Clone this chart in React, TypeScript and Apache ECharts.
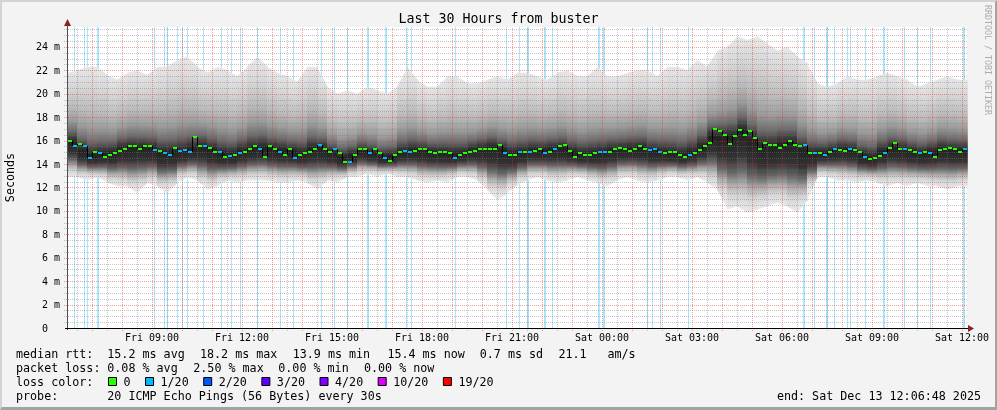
import React, { useEffect, useRef } from 'react';
import * as echarts from 'echarts';

// ---------- data (x = minutes since Fri 06:10, y = milliseconds) ----------
const xTickMinutes = [170, 350, 530, 710, 890, 1070, 1250, 1430, 1610, 1790];
const xTickLabels = ['Fri 09:00', 'Fri 12:00', 'Fri 15:00', 'Fri 18:00', 'Fri 21:00', 'Sat 00:00', 'Sat 03:00', 'Sat 06:00', 'Sat 09:00', 'Sat 12:00'];

const X_MAX = 1800;
const Y_MAX = 25.7;

const medianStepMin = 10;
const medianMs = [
  16.0, 15.5, 15.7, 15.5, 14.5, 15.0, 14.9, 14.6, 14.8, 14.9,
  15.1, 15.3, 15.5, 15.5, 15.3, 15.5, 15.5, 15.2, 15.1, 14.9,
  14.8, 15.4, 15.1, 15.2, 15.0, 16.3, 15.5, 15.5, 15.4, 15.0,
  15.0, 14.6, 14.7, 14.8, 14.9, 15.0, 15.3, 15.5, 15.3, 14.6,
  15.5, 15.3, 15.0, 14.8, 15.3, 14.5, 14.8, 14.9, 15.0, 15.3,
  15.6, 15.3, 15.0, 15.3, 14.9, 14.2, 14.2, 14.8, 15.3, 15.3,
  14.9, 15.3, 14.9, 14.5, 14.3, 14.8, 15.0, 15.1, 15.0, 15.1,
  15.3, 15.3, 15.0, 14.9, 15.0, 15.0, 14.9, 14.5, 14.8, 14.9,
  15.0, 15.1, 15.3, 15.3, 15.3, 15.3, 15.6, 14.9, 14.8, 14.8,
  15.0, 15.0, 15.0, 15.1, 15.3, 14.9, 15.0, 15.3, 15.5, 15.6,
  15.1, 14.6, 14.9, 14.8, 14.8, 14.9, 15.0, 15.0, 15.0, 15.3,
  15.4, 15.3, 15.1, 15.3, 15.5, 15.3, 15.2, 15.3, 15.0, 14.9,
  15.0, 15.0, 14.8, 14.6, 14.8, 14.9, 15.2, 15.5, 15.8, 17.0,
  16.8, 16.5, 15.7, 16.4, 16.9, 16.5, 16.8, 16.2, 15.3, 15.8,
  15.6, 15.6, 15.4, 15.6, 16.0, 15.6, 15.5, 15.6, 14.9, 14.9,
  14.9, 14.8, 15.0, 15.3, 15.2, 15.1, 15.3, 15.2, 15.0, 14.6,
  14.4, 14.5, 14.7, 14.9, 15.4, 15.8, 15.3, 15.3, 15.2, 15.0,
  14.9, 15.0, 14.9, 14.6, 15.2, 15.3, 15.4, 15.3, 15.0, 15.3,
  15.3,
];

const smokeStepMin = 20;
const smokeHiMs = [
  21.8, 22.0, 22.3, 22.3, 21.6, 21.2, 21.8, 22.0, 21.6, 22.3,
  22.3, 22.9, 23.2, 22.3, 21.8, 22.3, 22.0, 21.5, 22.3, 23.2,
  22.3, 21.8, 21.5, 21.0, 22.3, 22.3, 20.6, 20.0, 20.3, 20.0,
  20.6, 20.3, 20.0, 20.6, 22.3, 21.2, 20.6, 20.6, 21.5, 21.5,
  20.9, 20.9, 21.2, 21.5, 21.2, 21.8, 21.8, 21.5, 21.2, 21.8,
  22.0, 21.5, 21.5, 22.3, 21.5, 21.5, 21.8, 22.0, 22.0, 21.5,
  22.3, 22.3, 22.0, 22.9, 22.3, 23.7, 24.0, 24.9, 24.6, 24.9,
  24.3, 23.7, 24.0, 23.2, 22.6, 20.9, 20.6, 20.9, 21.5, 21.2,
  21.2, 21.5, 21.8, 21.5, 21.2, 20.6, 20.9, 21.2, 21.5, 21.2,
  21.2,
];
const smokeLoMs = [
  12.9, 12.9, 12.6, 12.9, 12.4, 12.1, 12.1, 11.5, 12.4, 12.1,
  11.5, 12.4, 12.9, 12.6, 11.8, 12.1, 12.6, 12.4, 12.6, 12.6,
  12.6, 12.4, 12.4, 12.6, 12.4, 11.8, 12.6, 12.4, 12.9, 12.9,
  13.2, 12.9, 13.2, 12.9, 12.9, 12.6, 12.4, 12.6, 12.4, 12.9,
  12.9, 12.6, 11.8, 10.9, 11.5, 12.2, 12.6, 12.9, 12.6, 12.4,
  12.6, 12.9, 12.6, 12.4, 12.1, 12.6, 12.9, 12.6, 12.4, 12.6,
  12.9, 12.9, 12.6, 12.9, 12.4, 11.8, 10.1, 10.4, 9.8, 10.1,
  10.4, 10.7, 10.4, 9.8, 10.9, 12.9, 12.9, 12.6, 12.6, 12.4,
  12.6, 12.4, 12.1, 12.4, 12.1, 12.4, 12.1, 12.1, 11.8, 12.1,
  12.1,
];

// [start minute, duration in minutes, lost pings out of 20]
const lossEvents = [
  [14, 2, 1], [34, 2, 1], [40, 2, 1], [60, 4, 1], [174, 2, 1], [194, 2, 1], [200, 2, 1], [220, 2, 1],
  [230, 2, 1], [240, 2, 1], [272, 2, 1], [308, 2, 1], [328, 2, 1], [346, 2, 1], [380, 2, 1], [426, 2, 1],
  [452, 2, 1], [508, 2, 1], [533, 2, 1], [560, 2, 1], [600, 4, 1], [636, 4, 1], [678, 2, 1], [688, 2, 1],
  [776, 2, 1], [878, 2, 1], [904, 2, 1], [920, 4, 1], [954, 4, 1], [970, 2, 1], [1062, 4, 1], [1072, 4, 1],
  [1160, 2, 1], [1170, 2, 1], [1186, 2, 1], [1242, 2, 1], [1472, 4, 1], [1494, 2, 1], [1518, 4, 1], [1534, 2, 1],
  [1560, 2, 1], [1566, 2, 1], [1596, 2, 1], [1632, 4, 1], [1674, 2, 1], [1700, 2, 1], [1726, 2, 1], [1792, 4, 1],
];

const lossColors = ['#26ff00', '#00b8ff', '#0059ff', '#5e00ff', '#7e00ff', '#dd00ff', '#ff0000'];
const lossLabels = ['0', '1/20', '2/20', '3/20', '4/20', '10/20', '19/20'];
const lossThresholds = [0, 1, 2, 3, 4, 10, 19];

const rttLegend = ['15.2 ms avg', '18.2 ms max', '13.9 ms min', '15.4 ms now', '0.7 ms sd', '21.1', 'am/s'];
const lossLegend = ['0.08 % avg', '2.50 % max', '0.00 % min', '0.00 % now'];
const probeText = '20 ICMP Echo Pings (56 Bytes) every 30s';
const endText = 'end: Sat Dec 13 12:06:48 2025';
const titleText = 'Last 30 Hours from buster';

// ---------- layout & style ----------
const MONO = '"DejaVu Sans Mono", "Liberation Mono", monospace';
const GL = 67, GT = 27, GW = 900, GH = 301;
const GB = GT + GH;
const LEG_FS = 11.7;
const RED_GRID = 'rgba(235,40,40,0.45)';
const GRAY_GRID = 'rgba(120,120,120,0.42)';
const LOSS_BG = 'rgba(0,176,245,0.33)';

const UPPER: [number, string][] = [
  [0, '#e6e6e6'], [0.25, '#d4d4d4'], [0.5, '#bbbbbb'], [0.7, '#9a9a9a'], [0.85, '#6a6a6a'], [0.93, '#404040'], [1, '#222222'],
];
const LOWER: [number, string][] = [
  [0, '#222222'], [0.3, '#333333'], [0.5, '#666666'], [0.66, '#a8a8a8'], [0.82, '#d4d4d4'], [1, '#e8e8e8'],
];

function lossColorFor(n: number) {
  let c = lossColors[0];
  lossThresholds.forEach((t, k) => { if (n >= t) c = lossColors[k]; });
  return c;
}

export default function App() {
  const ref = useRef<HTMLDivElement>(null);

  useEffect(() => {
    const el = ref.current!;
    const chart = echarts.init(el, undefined, { renderer: 'svg', width: 997, height: 410 });

    const smokeData = smokeHiMs.slice(0, -1).map((h, j) => [
      j * smokeStepMin, (j + 1) * smokeStepMin,
      h, smokeHiMs[j + 1],
      smokeLoMs[j], smokeLoMs[j + 1],
      medianMs[(j * smokeStepMin) / medianStepMin], medianMs[((j + 1) * smokeStepMin) / medianStepMin],
    ]);

    const medianData = medianMs.slice(0, -1).map((v, i) => {
      const t = i * medianStepMin;
      let lost = 0;
      lossEvents.forEach(([m, , n]) => { if (m >= t && m < t + medianStepMin) lost = Math.max(lost, n); });
      return [t, v, i > 0 ? medianMs[i - 1] : v, lost];
    });

    const vGrid: number[][] = [];
    for (let m = 20; m < X_MAX; m += 30) vGrid.push([m, (m - 50) % 60 === 0 ? 1 : 0]);
    const hGrid: number[][] = [];
    for (let v = 0.5; v < Y_MAX; v += 0.5) hGrid.push([0, v, v % 2 === 0 ? 1 : 0]);

    const graphic: any[] = [];
    const txt = (text: string, x: number, y: number, extra: any = {}, rotation = 0) => ({
      type: 'text', x, y, z: 100, rotation,
      style: { text, fill: '#000', fontFamily: MONO, fontSize: LEG_FS, verticalAlign: 'middle', align: 'left', ...extra },
    });
    graphic.push({ type: 'line', z: 90, shape: { x1: GL + 0.5, y1: GB + 2, x2: GL + 0.5, y2: GT - 5 }, style: { stroke: '#505050', lineWidth: 1 } });
    graphic.push({ type: 'line', z: 90, shape: { x1: GL - 2, y1: GB + 0.5, x2: GL + GW + 4, y2: GB + 0.5 }, style: { stroke: '#000', lineWidth: 1 } });
    graphic.push({ type: 'polygon', z: 91, shape: { points: [[GL - 3, GT - 1], [GL + 4, GT - 1], [GL + 0.5, GT - 8]] }, style: { fill: '#8e1f1f' } });
    graphic.push({ type: 'polygon', z: 91, shape: { points: [[GL + GW + 1, GB - 3], [GL + GW + 1, GB + 4], [GL + GW + 7, GB + 0.5]] }, style: { fill: '#8e1f1f' } });
    graphic.push(txt('Seconds', 10, GT + GH / 2, { align: 'center' }, Math.PI / 2));
    graphic.push(txt('RRDTOOL / TOBI OETIKER', 987.5, 60, { align: 'center', fill: '#ababab', fontSize: 8.3 }, -Math.PI / 2));

    const rttX = [107.3, 200, 292.7, 387.4, 479.8, 558.5, 607.4];
    graphic.push(txt('median rtt:', 16, 354));
    rttLegend.forEach((s, k) => graphic.push(txt(s, rttX[k], 354)));
    const lossX = [107.3, 193.3, 278.3, 364];
    graphic.push(txt('packet loss:', 16, 368));
    lossLegend.forEach((s, k) => graphic.push(txt(s, lossX[k], 368)));
    graphic.push(txt('loss color:', 16, 382));
    let sx = 108;
    lossLabels.forEach((lab, k) => {
      graphic.push({ type: 'rect', z: 100, shape: { x: sx + 0.5, y: 377.5, width: 8, height: 8 }, style: { fill: lossColors[k], stroke: '#000', lineWidth: 1 } });
      graphic.push(txt(lab, sx + 15.5, 382));
      sx += 15.5 + lab.length * 7.04 + 14.5;
    });
    graphic.push(txt('probe:', 16, 396));
    graphic.push(txt(probeText, 107.3, 396));
    graphic.push(txt(endText, 981, 396, { align: 'right' }));

    const option: any = {
      animation: false,
      backgroundColor: 'transparent',
      title: {
        text: titleText, left: 'center', top: 12, padding: 0,
        textStyle: { fontFamily: MONO, fontSize: 13.3, fontWeight: 'normal', color: '#000' },
      },
      grid: {
        left: GL, top: GT, width: GW, height: GH, show: true, backgroundColor: '#ffffff', borderWidth: 0,
        containLabel: false, outerBoundsMode: 'none',
      },
      xAxis: {
        type: 'value', min: 0, max: X_MAX,
        axisLine: { show: false }, axisTick: { show: false }, splitLine: { show: false },
        axisLabel: {
          customValues: xTickMinutes,
          formatter: (v: number) => { const k = xTickMinutes.indexOf(v); return k >= 0 ? xTickLabels[k] : ''; },
          fontFamily: MONO, fontSize: 10, color: '#000', margin: 4,
        },
      },
      yAxis: {
        type: 'value', min: 0, max: Y_MAX, interval: 2,
        axisLine: { show: false }, axisTick: { show: false }, splitLine: { show: false },
        axisLabel: {
          showMaxLabel: false,
          formatter: (v: number) => (v === 0 ? '{z|0}' : v % 2 === 0 ? `${v} m` : ''),
          rich: { z: { padding: [0, 12, 0, 0], fontFamily: MONO, fontSize: 10, color: '#000' } },
          fontFamily: MONO, fontSize: 10, color: '#000', margin: 7,
        },
      },
      graphic,
      series: [
        {
          type: 'custom', name: 'loss', z: 1, progressive: 0, silent: true,
          data: lossEvents,
          renderItem: (_p: any, api: any) => {
            const t = api.value(0), span = api.value(1), n = api.value(2);
            const x = Math.round(api.coord([t, 0])[0]);
            const w = Math.max(1, Math.round(api.size([span, 0])[0]));
            const yTop = Math.round(api.coord([t, Y_MAX])[1]);
            const yBot = Math.round(api.coord([t, 0])[1]);
            return { type: 'rect', shape: { x, y: yTop, width: w, height: yBot - yTop }, style: { fill: n >= 1 ? LOSS_BG : '#fff' } };
          },
        },
        {
          type: 'custom', name: 'smoke', z: 2, progressive: 0, silent: true,
          data: smokeData,
          renderItem: (_p: any, api: any) => {
            const t0 = api.value(0), t1 = api.value(1);
            const a = api.coord([t0, api.value(2)]);
            const b = api.coord([t1, api.value(3)]);
            const d = api.coord([t0, api.value(4)]);
            const c = api.coord([t1, api.value(5)]);
            const ym = (api.coord([t0, api.value(6)])[1] + api.coord([t1, api.value(7)])[1]) / 2;
            const top = Math.min(a[1], b[1]);
            const bot = Math.max(c[1], d[1]);
            const yh = (a[1] + b[1]) / 2, yl = (c[1] + d[1]) / 2;
            const H = Math.max(1, bot - top);
            const off = (y: number) => Math.min(1, Math.max(0, (y - top) / H));
            const stops: any[] = [];
            UPPER.forEach(([f, col]) => stops.push({ offset: off(yh + f * (ym - yh)), color: col }));
            LOWER.forEach(([f, col]) => stops.push({ offset: off(ym + f * (yl - ym)), color: col }));
            return {
              type: 'polygon',
              shape: { points: [[a[0], a[1]], [b[0] + 0.8, b[1]], [c[0] + 0.8, c[1]], [d[0], d[1]]] },
              style: { fill: new echarts.graphic.LinearGradient(0, 0, 0, 1, stops) },
            };
          },
        },
        {
          type: 'custom', name: 'vgrid', z: 4, progressive: 0, silent: true,
          data: vGrid,
          renderItem: (_p: any, api: any) => {
            const v = api.value(0), major = api.value(1);
            const p0 = api.coord([v, 0]);
            const p1 = api.coord([v, Y_MAX]);
            const x = Math.round(p0[0]) + 0.5;
            return {
              type: 'line',
              shape: { x1: x, y1: Math.round(p0[1]) + 3, x2: x, y2: Math.round(p1[1]) },
              style: { stroke: major ? RED_GRID : GRAY_GRID, lineWidth: 1, lineDash: [1, 1] },
            };
          },
        },
        {
          type: 'custom', name: 'hgrid', z: 4, progressive: 0, silent: true,
          data: hGrid,
          renderItem: (_p: any, api: any) => {
            const v = api.value(1), major = api.value(2);
            const q0 = api.coord([0, v]);
            const q1 = api.coord([X_MAX, v]);
            const y = Math.round(q0[1]) + 0.5;
            return {
              type: 'line',
              shape: { x1: Math.round(q0[0]) - 3, y1: y, x2: Math.round(q1[0]), y2: y },
              style: { stroke: major ? RED_GRID : GRAY_GRID, lineWidth: 1, lineDash: [1, 1] },
            };
          },
        },
        {
          type: 'custom', name: 'median', z: 5, progressive: 0, silent: true,
          data: medianData,
          renderItem: (_p: any, api: any) => {
            const t = api.value(0), v = api.value(1), prev = api.value(2), lost = api.value(3);
            const p = api.coord([t, v]);
            const yp = api.coord([t, prev])[1];
            const w = api.size([medianStepMin, 0])[0];
            const left = Math.round(p[0]);
            const y = Math.round(p[1]);
            return {
              type: 'group',
              children: [
                { type: 'line', shape: { x1: left + 0.5, y1: Math.round(yp), x2: left + 0.5, y2: y }, style: { stroke: '#000', lineWidth: 1 } },
                { type: 'rect', shape: { x: left + 1, y: y - 1, width: Math.max(1, Math.round(w) - 1), height: 2 }, style: { fill: lossColorFor(lost) } },
              ],
            };
          },
        },
      ],
    };

    chart.setOption(option);
    return () => chart.dispose();
  }, []);

  return (
    <div style={{ position: 'fixed', left: 0, top: 0, width: 997, height: 410, background: '#f3f3f3', overflow: 'hidden' }}>
      <div ref={ref} style={{ width: 997, height: 410, willChange: 'transform' }} />
      <div
        style={{
          position: 'absolute', left: 0, top: 0, width: 997, height: 410, boxSizing: 'border-box',
          borderTop: '2px solid #d3d3d3', borderLeft: '2px solid #d3d3d3',
          borderRight: '2px solid #a3a3a3', borderBottom: '3px solid #a3a3a3', pointerEvents: 'none',
        }}
      />
    </div>
  );
}
